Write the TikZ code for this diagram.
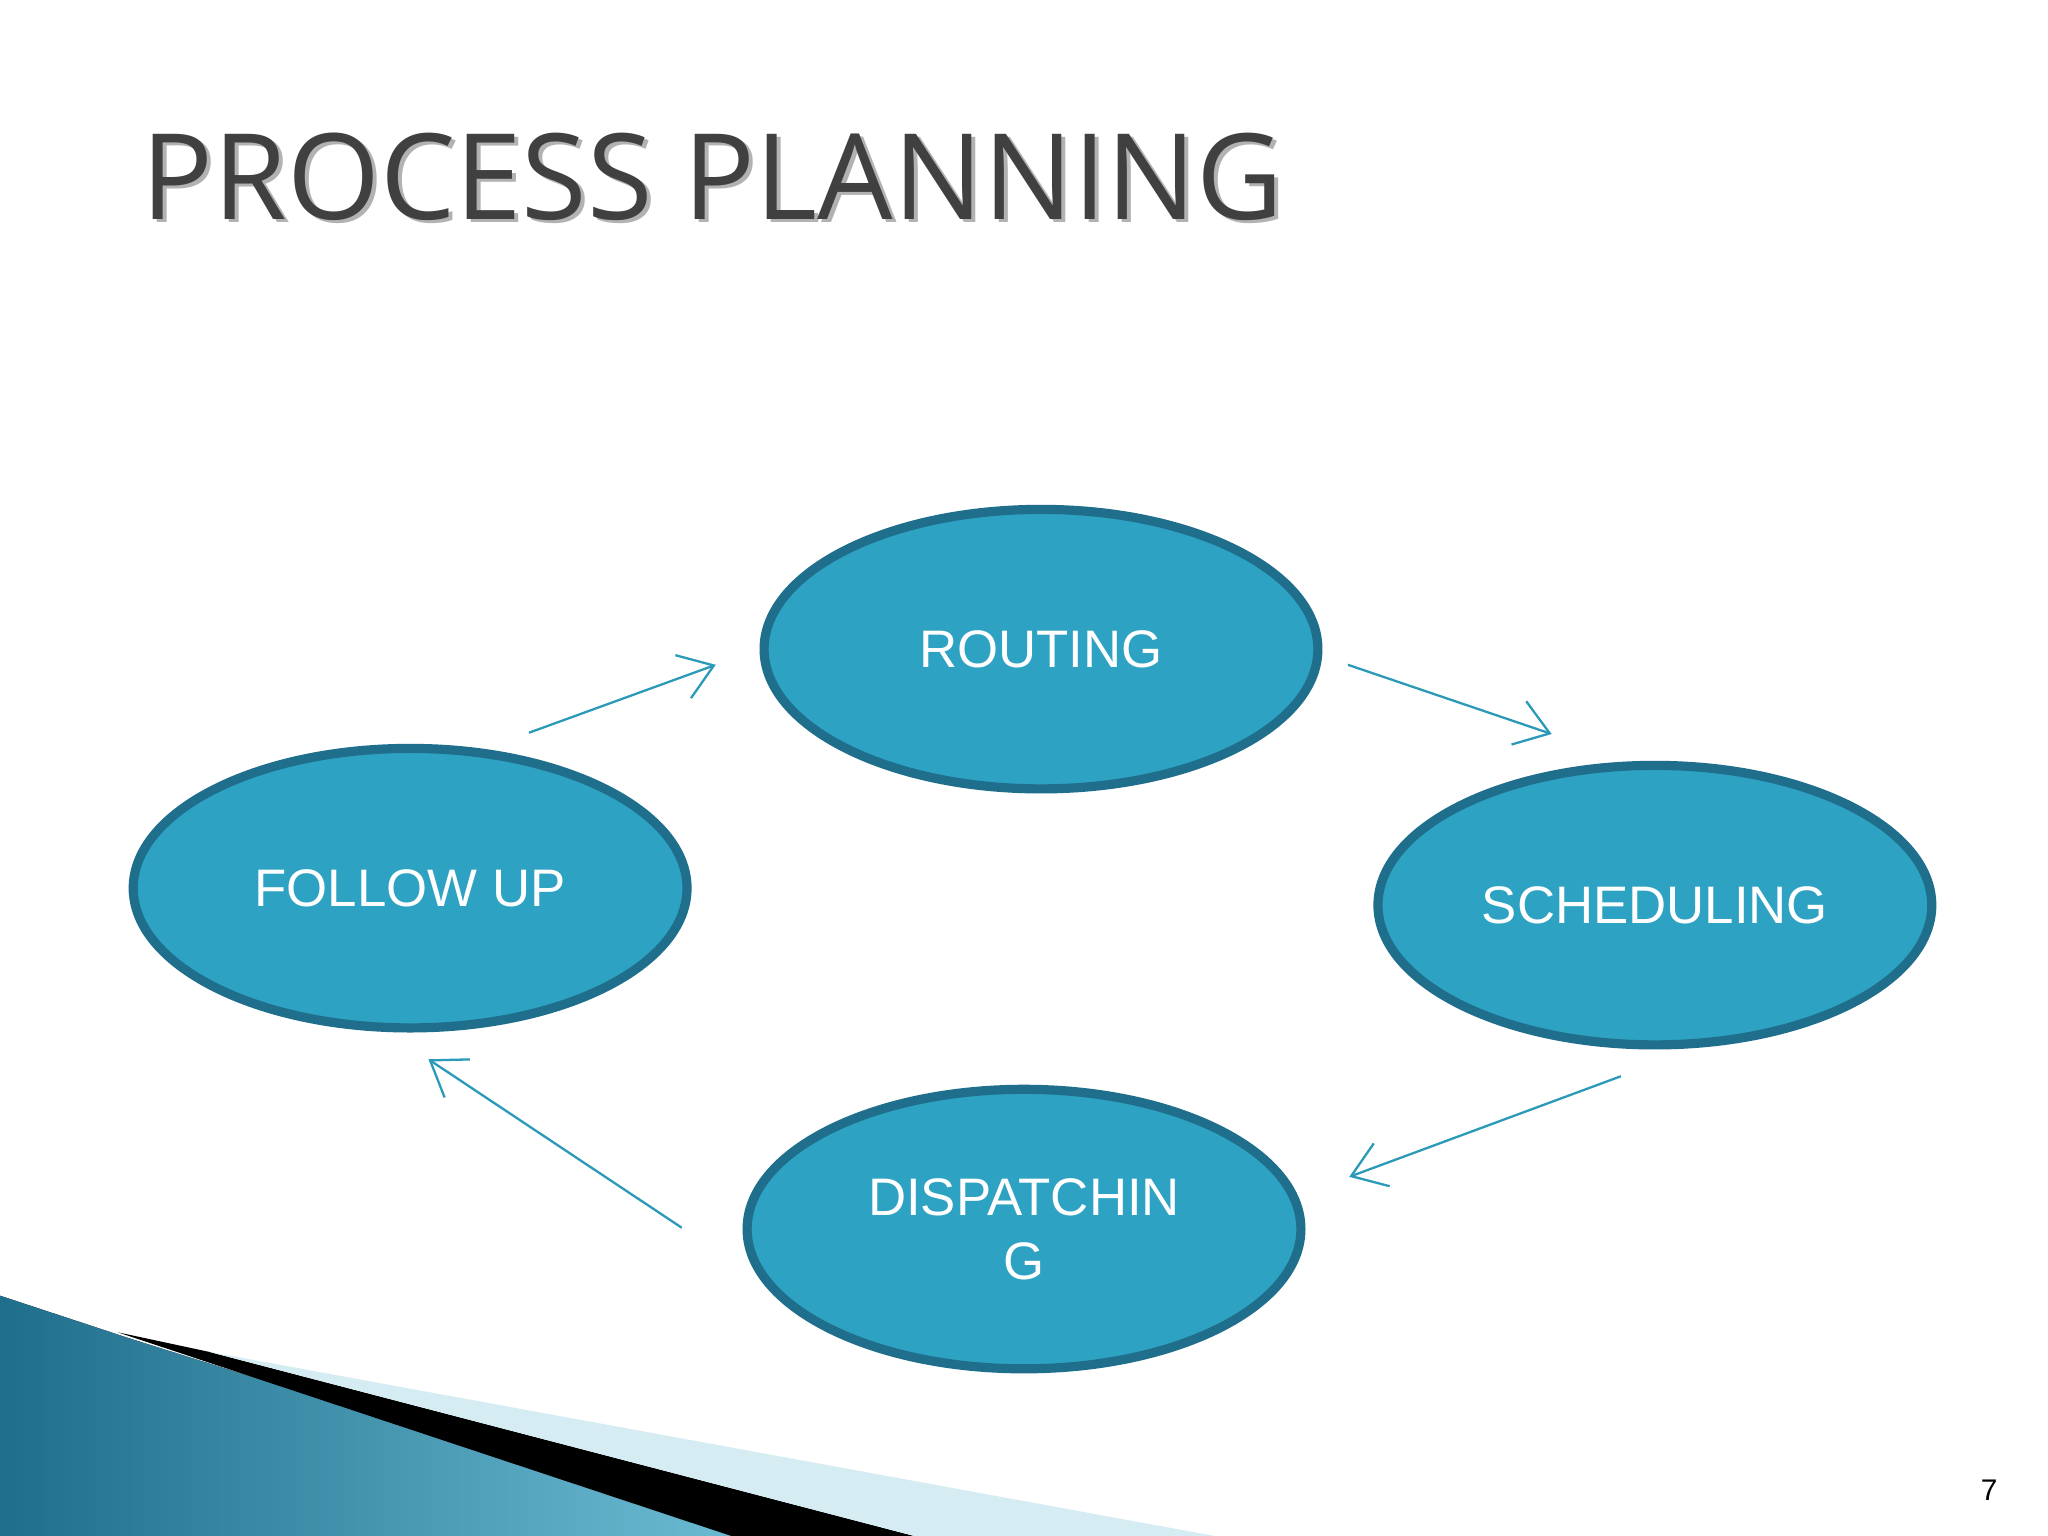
\documentclass[tikz,border=0pt]{standalone}
\usepackage{fontspec}
\setmainfont{Liberation Sans}
\newfontfamily\titlefont{Open Sans}
\usetikzlibrary{arrows.meta,shadings}
\definecolor{tealfill}{HTML}{2EA2C2}
\definecolor{tealdark}{HTML}{1F6E8C}
\definecolor{arrowc}{HTML}{2A9AB8}
\tikzset{
  stage/.style={ellipse,draw=tealdark,line width=2pt,fill=tealfill,minimum width=4.24cm,minimum height=2.14cm,text=white,font=\fontsize{11.5}{14}\selectfont,align=center,inner sep=0pt},
  flow/.style={draw=arrowc,line width=0.5pt,-{Straight Barb[length=2.5mm,width=3.5mm]}}
}
\usetikzlibrary{shapes.geometric}
\begin{document}
\begin{tikzpicture}
\useasboundingbox (0,0) rectangle (15.68,-11.76);
\fill[white] (0,0) rectangle (15.68,-11.76);
% bottom-left decoration
\fill[left color=tealdark,right color=tealfill!70] (0,-9.92) -- (1.0,-10.25) -- (5.8,-11.76) -- (0,-11.76) -- cycle;
\fill[black] (0.9,-10.2) -- (1.6,-10.35) -- (7.0,-11.76) -- (5.6,-11.76) -- cycle;
\fill[tealfill!20] (1.6,-10.35) -- (9.3,-11.76) -- (7.0,-11.76) -- cycle;
% title
\node[anchor=west,text=black!30,font=\titlefont\fontsize{26}{30}\selectfont] at (0.99,-1.38) {PROCESS PLANNING};
\node[anchor=west,text=black!75,font=\titlefont\fontsize{26}{30}\selectfont] (title) at (0.96,-1.35) {PROCESS PLANNING};
% stages
\node[stage] (routing) at (7.97,-4.97) {ROUTING};
\node[stage] (sched) at (12.67,-6.93) {SCHEDULING};
\node[stage] (disp) at (7.84,-9.41) {DISPATCHIN\\G};
\node[stage] (follow) at (3.14,-6.80) {FOLLOW UP};
% connectors
\coordinate (a1) at (4.05,-5.61); \coordinate (a2) at (5.48,-5.09);
\coordinate (b1) at (10.32,-5.09); \coordinate (b2) at (11.88,-5.62);
\coordinate (c1) at (12.41,-8.24); \coordinate (c2) at (10.33,-9.01);
\coordinate (d1) at (5.22,-9.40); \coordinate (d2) at (3.28,-8.11);
\draw[flow] (a1) -- (a2);
\draw[flow] (b1) -- (b2);
\draw[flow] (c1) -- (c2);
\draw[flow] (d1) -- (d2);
\node[font=\fontsize{6.5}{8}\selectfont] (pg) at (15.23,-11.41) {7};
\end{tikzpicture}
\end{document}
